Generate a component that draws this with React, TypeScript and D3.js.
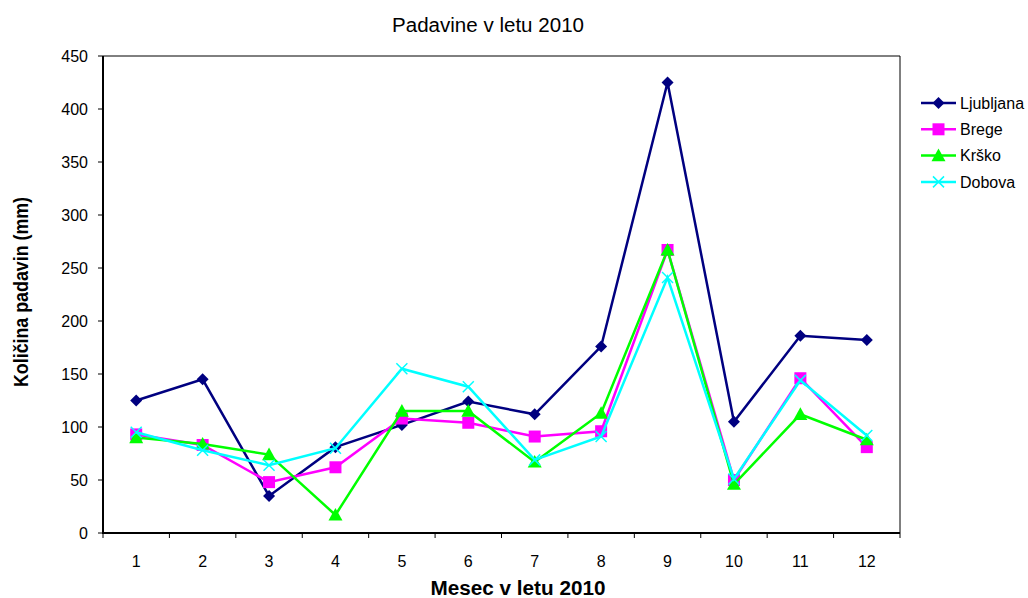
import React from "react";
import * as d3 from "d3";

const months = ["1", "2", "3", "4", "5", "6", "7", "8", "9", "10", "11", "12"];
const ljubljana = [125, 145, 35, 81, 102, 124, 112, 176, 425, 105, 186, 182];
const brege = [93, 83, 48, 62, 108, 104, 91, 96, 267, 50, 146, 81];
const krsko = [90, 84, 74, 17, 115, 115, 67, 113, 267, 46, 112, 88];
const dobova = [95, 78, 64, 80, 155, 138, 69, 91, 241, 51, 144, 92];
const yTicks = [0, 50, 100, 150, 200, 250, 300, 350, 400, 450];

const series = [
  { name: "Ljubljana", values: ljubljana, color: "#000080", marker: "diamond" },
  { name: "Brege", values: brege, color: "#FF00FF", marker: "square" },
  { name: "Krško", values: krsko, color: "#00FF00", marker: "triangle" },
  { name: "Dobova", values: dobova, color: "#00FFFF", marker: "x" },
];

const W = 1028, H = 598;
const left = 103, right = 900, top = 56, bottom = 533;
const font = "'Liberation Sans', Arial, sans-serif";

function Marker({ type, x, y, color }: { type: string; x: number; y: number; color: string }) {
  if (type === "diamond") {
    const s = 6;
    return <path d={`M${x},${y - s}L${x + s},${y}L${x},${y + s}L${x - s},${y}Z`} fill={color} />;
  }
  if (type === "square") {
    const s = 6;
    return <rect x={x - s} y={y - s} width={2 * s} height={2 * s} fill={color} />;
  }
  if (type === "triangle") {
    const s = 7;
    return <path d={`M${x},${y - s}L${x + s},${y + s * 0.8}L${x - s},${y + s * 0.8}Z`} fill={color} />;
  }
  const s = 5.5;
  return (
    <path d={`M${x - s},${y - s}L${x + s},${y + s}M${x - s},${y + s}L${x + s},${y - s}`} stroke={color} strokeWidth={1.5} fill="none" />
  );
}

export default function App() {
  const x = d3.scaleBand<string>().domain(months).range([left, right]);
  const y = d3.scaleLinear().domain([0, 450]).range([bottom, top]);
  const line = d3
    .line<number>()
    .x((_, i) => (x(months[i]) as number) + x.bandwidth() / 2)
    .y((v) => y(v));
  const boundaries = months.map((m) => x(m) as number).concat([right]);

  return (
    <svg width={W} height={H} style={{ position: "absolute", left: 0, top: 0, background: "#fff" }} fontFamily={font}>
      <rect x={0} y={0} width={W} height={H} fill="#fff" />
      <text x={488} y={32} textAnchor="middle" fontSize={20} textLength={192} lengthAdjust="spacingAndGlyphs" fill="#000">Padavine v letu 2010</text>
      {/* frame */}
      <line x1={left} y1={top} x2={right} y2={top} stroke="#000" strokeWidth={1} />
      <line x1={right} y1={top} x2={right} y2={bottom} stroke="#000" strokeWidth={1} />
      <line x1={left} y1={top} x2={left} y2={bottom + 1} stroke="#000" strokeWidth={2} />
      <line x1={left - 1} y1={bottom} x2={right} y2={bottom} stroke="#000" strokeWidth={2} />
      {yTicks.map((t) => (
        <g key={t}>
          <line x1={left - 5} x2={left} y1={y(t)} y2={y(t)} stroke="#000" strokeWidth={1} />
          <text x={left - 15} y={y(t)} dy="0.35em" textAnchor="end" fontSize={16} fill="#000">{t}</text>
        </g>
      ))}
      {boundaries.map((b, i) => (
        <line key={i} x1={b} x2={b} y1={bottom} y2={bottom + 5} stroke="#000" strokeWidth={1} />
      ))}
      {months.map((m) => (
        <text key={m} x={(x(m) as number) + x.bandwidth() / 2} y={567} textAnchor="middle" fontSize={16} fill="#000">{m}</text>
      ))}
      <text x={518} y={595} textAnchor="middle" fontSize={20} fontWeight="bold" textLength={175} lengthAdjust="spacingAndGlyphs" fill="#000">Mesec v letu 2010</text>
      <text transform={`translate(28,292) rotate(-90)`} textAnchor="middle" fontSize={20} fontWeight="bold" textLength={190} lengthAdjust="spacingAndGlyphs" fill="#000">Količina padavin (mm)</text>
      {series.map((s) => (
        <g key={s.name}>
          <path d={line(s.values) || ""} fill="none" stroke={s.color} strokeWidth={2.5} />
          {s.values.map((v, i) => (
            <Marker key={i} type={s.marker} x={(x(months[i]) as number) + x.bandwidth() / 2} y={y(v)} color={s.color} />
          ))}
        </g>
      ))}
      {series.map((s, i) => {
        const ly = 103 + i * 26.3;
        return (
          <g key={s.name}>
            <line x1={921} x2={956} y1={ly} y2={ly} stroke={s.color} strokeWidth={2.5} />
            <Marker type={s.marker} x={938.5} y={ly} color={s.color} />
            <text x={960} y={ly} dy="0.35em" fontSize={16} fill="#000">{s.name}</text>
          </g>
        );
      })}
    </svg>
  );
}
